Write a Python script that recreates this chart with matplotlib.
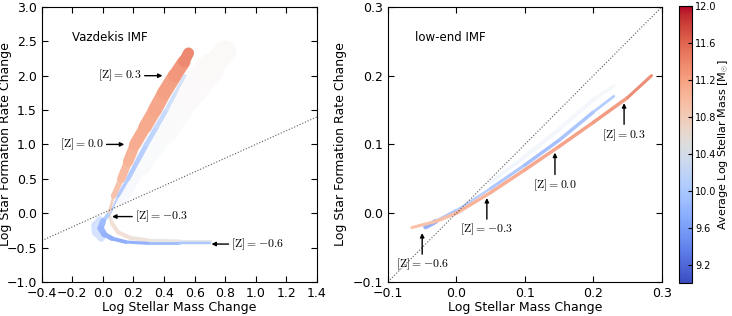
import numpy as np
import matplotlib
matplotlib.use("Agg")
import matplotlib.pyplot as plt
from matplotlib.collections import LineCollection
from matplotlib.colors import Normalize
from matplotlib.cm import ScalarMappable

plt.rcParams['font.family'] = 'DejaVu Sans'
plt.rcParams['mathtext.fontset'] = 'cm'
plt.rcParams['xtick.direction'] = 'in'
plt.rcParams['ytick.direction'] = 'in'
plt.rcParams['xtick.top'] = True
plt.rcParams['ytick.right'] = True

# ---- left panel (Vazdekis IMF): ridge tracks ----
# upper branch, orange core
va_core_x = np.array([0.04, 0.07, 0.12, 0.165, 0.21, 0.275, 0.34, 0.40, 0.47, 0.53, 0.56])
va_core_y = np.array([0.0, 0.25, 0.5, 0.75, 1.0, 1.25, 1.5, 1.75, 2.0, 2.2, 2.33])
va_core_m = np.array([10.7, 10.9, 11.0, 11.1, 11.15, 11.2, 11.2, 11.25, 11.3, 11.4, 11.5])
va_core_w = np.array([1, 3, 5, 7, 8, 9, 10, 10, 10, 9, 7])
# upper branch, blue outer edge
va_edge_x = np.array([0.05, 0.10, 0.165, 0.225, 0.285, 0.35, 0.415, 0.475, 0.535])
va_edge_y = np.array([0.0, 0.25, 0.5, 0.75, 1.0, 1.25, 1.5, 1.75, 2.0])
va_edge_m = np.array([10.0, 9.8, 9.8, 9.8, 9.9, 10.0, 10.1, 10.2, 10.3])
va_edge_w = np.array([1, 2, 3, 3.5, 3.5, 3.5, 3, 2.5, 2])
# faint outer cloud
va_cloud_x = np.array([0.12, 0.25, 0.4, 0.55, 0.7, 0.8])
va_cloud_y = np.array([0.2, 0.7, 1.2, 1.7, 2.1, 2.35])
va_cloud_m = np.array([10.3, 10.4, 10.5, 10.5, 10.6, 10.6])
va_cloud_w = np.array([6, 12, 18, 22, 20, 12])
# lower branch, blue bottom ridge
va_low_x = np.array([0.035, 0.0, -0.015, 0.01, 0.06, 0.15, 0.3, 0.5, 0.7])
va_low_y = np.array([-0.02, -0.12, -0.22, -0.31, -0.37, -0.42, -0.44, -0.44, -0.44])
va_low_m = np.array([10.2, 9.8, 9.7, 9.7, 9.6, 9.6, 9.7, 9.8, 10.0])
va_low_w = np.array([2, 4, 5, 4, 3, 2.5, 2, 2, 1.5])
# lower branch, pale upper layer
va_pale_x = np.array([0.04, 0.06, 0.1, 0.18, 0.3, 0.5, 0.7])
va_pale_y = np.array([-0.02, -0.15, -0.28, -0.36, -0.40, -0.41, -0.41])
va_pale_m = np.array([10.6, 10.7, 10.7, 10.7, 10.6, 10.5, 10.4])
va_pale_w = np.array([2, 3, 3, 3, 3, 2.5, 2])
# lower branch, blue scatter on the left of the bend
va_blob_x = np.array([-0.02, -0.045, -0.04, -0.01])
va_blob_y = np.array([-0.1, -0.18, -0.28, -0.36])
va_blob_m = np.array([9.9, 9.8, 9.8, 9.9])
va_blob_w = np.array([4, 7, 7, 4])

# ---- right panel (low-end IMF) ----
le_red_x = np.array([-0.065, -0.03, 0.0, 0.05, 0.1, 0.15, 0.2, 0.25, 0.285])
le_red_y = np.array([-0.021, -0.012, 0.0, 0.03, 0.063, 0.097, 0.132, 0.168, 0.2])
le_red_m = np.array([11.0, 11.0, 11.1, 11.2, 11.2, 11.3, 11.3, 11.4, 11.5])
le_red_w = np.array([2, 2.5, 2.5, 2.5, 2.5, 2.5, 2.5, 2.5, 2])
le_blue_x = np.array([-0.045, -0.03, 0.0, 0.05, 0.1, 0.15, 0.2, 0.23])
le_blue_y = np.array([-0.02, -0.012, 0.004, 0.036, 0.070, 0.106, 0.147, 0.170])
le_blue_m = np.array([9.5, 9.6, 9.9, 9.9, 9.7, 9.7, 9.8, 10.0])
le_blue_w = np.array([4, 3, 1.5, 2, 2.5, 2.5, 2.5, 1.5])
le_fuzz_x = np.array([0.05, 0.1, 0.15, 0.2, 0.23])
le_fuzz_y = np.array([0.045, 0.082, 0.122, 0.165, 0.185])
le_fuzz_m = np.array([10.2, 10.2, 10.3, 10.3, 10.4])
le_fuzz_w = np.array([2, 3, 3, 3, 2])

# annotations
z_labels = [r'$[\mathrm{Z}]=0.3$', r'$[\mathrm{Z}]=0.0$', r'$[\mathrm{Z}]=-0.3$', r'$[\mathrm{Z}]=-0.6$']
va_tips = [(0.39, 2.0), (0.14, 1.0), (0.06, -0.05), (0.71, -0.45)]
va_text = [(-0.03, 2.0), (-0.28, 1.0), (0.21, -0.05), (0.84, -0.45)]
le_tips = [(0.245, 0.160), (0.144, 0.088), (0.0445, 0.022), (-0.05, -0.029)]
le_text = [(0.245, 0.114), (0.144, 0.041), (0.0445, -0.024), (-0.05, -0.075)]

cb_ticks = [9.2, 9.6, 10.0, 10.4, 10.8, 11.2, 11.6, 12.0]

norm = Normalize(vmin=9.0, vmax=12.0)
cmap = plt.get_cmap('coolwarm')


def draw_track(ax, x, y, m, w, fade):
    # colour each segment by its mean mass, mixed toward white by `fade`
    pts = np.column_stack([x, y]).reshape(-1, 1, 2)
    segs = np.concatenate([pts[:-1], pts[1:]], axis=1)
    cols = cmap(norm((m[:-1] + m[1:]) / 2.0))
    cols[:, :3] = fade + (1 - fade) * cols[:, :3]
    lc = LineCollection(segs, colors=cols, linewidths=(w[:-1] + w[1:]) / 2.0,
                        capstyle='round', joinstyle='round')
    ax.add_collection(lc)


fig = plt.figure(figsize=(7.32, 3.16), dpi=100)
ax1 = fig.add_axes([0.057, 0.108, 0.376, 0.870])
ax2 = fig.add_axes([0.530, 0.108, 0.374, 0.870])
cax = fig.add_axes([0.927, 0.104, 0.019, 0.878])

# left panel
draw_track(ax1, va_cloud_x, va_cloud_y, va_cloud_m, va_cloud_w, 0.85)
draw_track(ax1, va_blob_x, va_blob_y, va_blob_m, va_blob_w, 0.6)
draw_track(ax1, va_edge_x, va_edge_y, va_edge_m, va_edge_w, 0.3)
draw_track(ax1, va_core_x, va_core_y, va_core_m, va_core_w, 0.1)
draw_track(ax1, va_pale_x, va_pale_y, va_pale_m, va_pale_w, 0.3)
draw_track(ax1, va_low_x, va_low_y, va_low_m, va_low_w, 0.15)
ax1.plot([-0.4, 1.4], [-0.4, 1.4], ls=':', color='0.35', lw=0.8)
ax1.set_xlim(-0.4, 1.4)
ax1.set_ylim(-1.0, 3.0)
ax1.set_xticks(np.arange(-0.4, 1.41, 0.2))
ax1.set_yticks(np.arange(-1.0, 3.01, 0.5))
ax1.text(-0.2, 2.55, 'Vazdekis IMF', fontsize=8.5, va='center')
for lab, tip, pos in zip(z_labels, va_tips, va_text):
    ax1.annotate(lab, xy=tip, xytext=pos, ha='left', va='center', fontsize=8.5,
                 arrowprops=dict(arrowstyle='-|>', color='black', lw=1, mutation_scale=6,
                                 shrinkA=0, shrinkB=0))
ax1.set_xlabel('Log Stellar Mass Change', fontsize=9, labelpad=1)
ax1.set_ylabel('Log Star Formation Rate Change', fontsize=9)
ax1.yaxis.set_label_coords(-0.108, 0.5)

# right panel
draw_track(ax2, le_fuzz_x, le_fuzz_y, le_fuzz_m, le_fuzz_w, 0.8)
draw_track(ax2, le_blue_x, le_blue_y, le_blue_m, le_blue_w, 0.25)
draw_track(ax2, le_red_x, le_red_y, le_red_m, le_red_w, 0.15)
ax2.plot([-0.1, 0.3], [-0.1, 0.3], ls=':', color='0.35', lw=0.8)
ax2.set_xlim(-0.1, 0.3)
ax2.set_ylim(-0.1, 0.3)
ax2.set_xticks([-0.1, 0.0, 0.1, 0.2, 0.3])
ax2.set_yticks([-0.1, 0.0, 0.1, 0.2, 0.3])
ax2.text(-0.06, 0.255, 'low-end IMF', fontsize=8.5, va='center')
for lab, tip, pos in zip(z_labels, le_tips, le_text):
    ax2.annotate(lab, xy=tip, xytext=pos, ha='center', va='center', fontsize=8.5,
                 arrowprops=dict(arrowstyle='-|>', color='black', lw=1, mutation_scale=6,
                                 shrinkA=0, shrinkB=0))
ax2.set_xlabel('Log Stellar Mass Change', fontsize=9, labelpad=1)
ax2.set_ylabel('Log Star Formation Rate Change', fontsize=9)

for ax in (ax1, ax2):
    ax.tick_params(labelsize=9, length=4)

sm = ScalarMappable(norm=norm, cmap=cmap)
cb = fig.colorbar(sm, cax=cax, ticks=cb_ticks)
cb.ax.tick_params(labelsize=7, direction='in', length=3, pad=2)
cb.set_label(r'Average Log Stellar Mass [M$_{\odot}$]', fontsize=8, labelpad=0)

fig.savefig('out.png', dpi=100)
